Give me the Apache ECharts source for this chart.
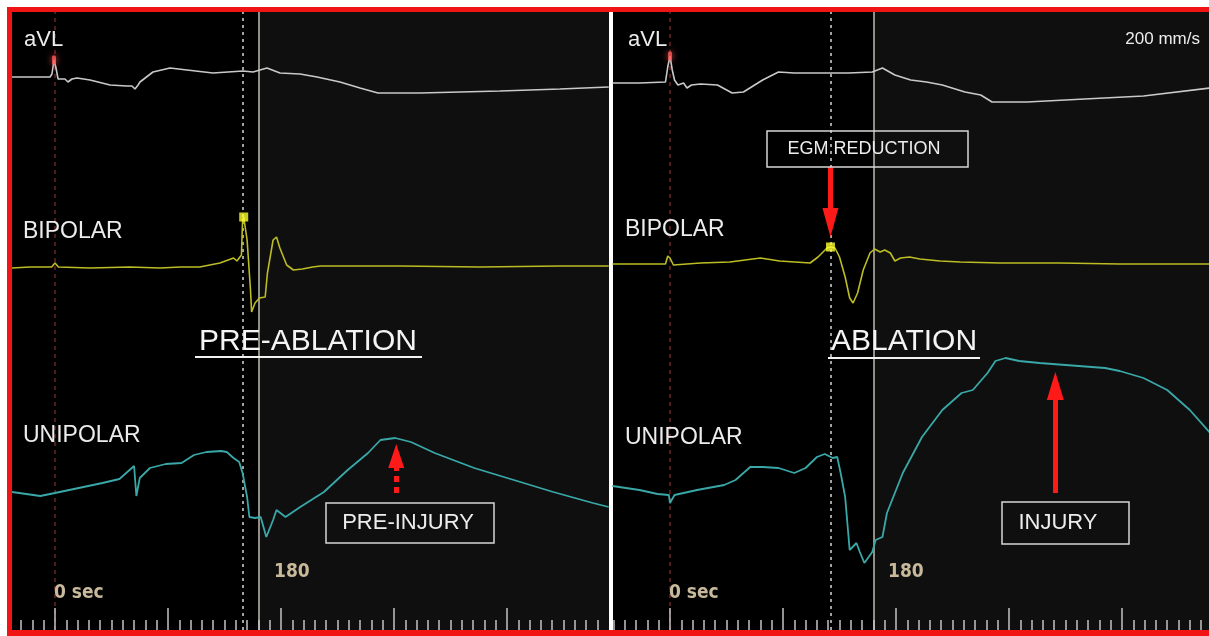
<!DOCTYPE html>
<html>
<head>
<meta charset="utf-8">
<script src="https://cdn.jsdelivr.net/npm/echarts@6/dist/echarts.min.js"></script>
<style>
  html, body { margin: 0; padding: 0; background: #fff; }
  #chart { width: 1209px; height: 636px; }
</style>
</head>
<body>
<div id="chart"></div>
<script>
// time in ms from the pacing spike, amplitude in mV (positive up)

// ---- PRE-ABLATION panel ----
var avlLeftT = [-38, -22, -4.4, -2.7, -0.9, 0.9, 2.7, 4.4, 8.8, 11.5, 15, 19.5, 31, 48.7, 63.7, 68.1, 70.8, 73.5, 75.2, 86.7, 101.8, 116.8, 139.8, 166.4, 175.2, 187.6, 199.1, 216.8, 231.9, 252.2, 269.9, 285.8, 323, 393.8, 446.9, 490];
var avlLeftV = [0.03, 0.03, 0.03, 0.06, 0.20, 0.12, 0.01, 0.00, 0.01, -0.02, 0.01, 0.02, 0, -0.05, -0.06, -0.06, -0.09, -0.05, -0.02, 0.08, 0.12, 0.10, 0.07, 0.09, 0.08, 0.12, 0.07, 0.06, 0.03, -0.02, -0.08, -0.13, -0.13, -0.11, -0.09, -0.07];

var bipLeftT = [-38, -22, -3, 0, 3, 31, 66, 93, 111, 128, 146, 158, 161, 165, 166, 167, 170, 173, 174, 177, 181, 186, 188, 193, 196, 199, 205, 211, 219, 228, 235, 305, 376, 447, 490];
var bipLeftV = [-0.03, -0.02, -0.02, 0.02, -0.02, -0.03, -0.02, -0.03, -0.02, -0.02, 0.02, 0.07, 0.04, 0.10, 0.45, 0.48, 0.25, -0.25, -0.47, -0.38, -0.33, -0.32, -0.08, 0.25, 0.28, 0.17, 0, -0.05, -0.04, -0.02, -0.01, -0.01, -0.02, -0.01, -0.01];

var uniLeftT = [-38, -13, 0, 21, 42, 57, 66, 70, 72, 75, 84, 98, 112, 123, 134, 147, 152, 158, 163, 166, 170, 172, 177, 182, 187, 193, 196, 204, 217, 238, 259, 277, 288, 301, 315, 336, 371, 406, 441, 476, 490];
var uniLeftV = [0.03, -0.01, 0.02, 0.07, 0.12, 0.16, 0.25, 0.29, -0.01, 0.17, 0.27, 0.31, 0.32, 0.40, 0.43, 0.44, 0.43, 0.37, 0.33, 0.22, -0.02, -0.22, -0.23, -0.22, -0.42, -0.25, -0.15, -0.22, -0.12, 0.03, 0.25, 0.42, 0.55, 0.57, 0.53, 0.42, 0.27, 0.15, 0.03, -0.08, -0.12];

// ---- ABLATION panel ----
var avlRightT = [-51, -27, -4, -2, 0, 2, 4, 7, 12, 15, 19, 27, 42, 55, 65, 82, 96, 110, 130, 158, 179, 188, 199, 213, 227, 241, 261, 275, 285, 316, 367, 419, 478];
var avlRightV = [-0.03, -0.03, -0.02, 0.13, 0.24, 0.10, 0, -0.05, -0.03, -0.08, -0.05, -0.04, -0.05, -0.13, -0.12, 0, 0.08, 0.07, 0.07, 0.07, 0.08, 0.12, 0.05, 0, -0.02, -0.05, -0.12, -0.15, -0.22, -0.22, -0.19, -0.16, -0.08];

var bipRightT = [-51, -27, -4, -2, 0, 3, 27, 53, 80, 97, 124, 131, 139, 142, 146, 150, 155, 159, 162, 166, 171, 177, 181, 186, 190, 195, 199, 204, 212, 221, 239, 257, 292, 345, 398, 478];
var bipRightV = [0.01, 0.01, 0.01, 0.09, 0.07, 0, 0.02, 0.03, 0.07, 0.04, 0.02, 0.08, 0.17, 0.18, 0.17, 0.08, -0.12, -0.33, -0.38, -0.28, -0.05, 0.12, 0.16, 0.13, 0.15, 0.12, 0.04, 0.07, 0.08, 0.06, 0.04, 0.03, 0.02, 0.02, 0.01, 0.01];

var uniRightT = [-51, -27, -11, -1, 0, 4, 24, 48, 58, 71, 82, 96, 110, 120, 130, 137, 144, 148, 151, 155, 159, 165, 168, 172, 179, 182, 188, 192, 206, 223, 241, 258, 268, 281, 288, 297, 309, 327, 350, 385, 398, 419, 440, 460, 478];
var uniRightV = [0.09, 0.05, 0.01, 0, -0.08, 0, 0.05, 0.10, 0.15, 0.28, 0.28, 0.27, 0.22, 0.27, 0.38, 0.41, 0.37, 0.38, 0.22, -0.02, -0.55, -0.48, -0.57, -0.68, -0.57, -0.45, -0.42, -0.18, 0.22, 0.58, 0.85, 1.02, 1.05, 1.22, 1.34, 1.37, 1.34, 1.32, 1.30, 1.27, 1.24, 1.17, 1.05, 0.85, 0.62];

// markers: [time, mV]
var paceLeft = [-0.9, 0.20], paceRight = [0, 0.24];
var egmLeft = [167, 0.48], egmRight = [142, 0.18];

// cursor lines (ms): spike, annotation cursor, 180 ms
var cursorsLeft = [0, 166, 180];
var cursorsRight = [0, 142, 180];

// arrows: [time, from mV, to mV]
var preInjuryArrow = [302, 0.02, 0.39];
var injuryArrow = [341, 0.02, 1.09];
var egmArrow = [142, 0.98, 0.425];

var majorTicks = [0, 100, 200, 300, 400];
var minorTicks = [];
for (var t = -50; t <= 480; t += 10) {
    if (majorTicks.indexOf(t) < 0) minorTicks.push(t);
}

// ---- layout ----
var PX_PER_MS = 1.13;
var TOP = 12, BOTTOM = 630;
var panels = [
    { left: 12, width: 597, zeroPx: 55 },
    { left: 613, width: 596, zeroPx: 670 }
];
var baselinePx = [80, 265, 495]; // aVL, bipolar, unipolar
var PX_PER_MV = 100;

function zip(ts, vs) {
    var out = [];
    for (var i = 0; i < ts.length; i++) out.push([ts[i], vs[i]]);
    return out;
}

var grids = [], xAxes = [], yAxes = [], series = [];

panels.forEach(function (p, pi) {
    var xmin = (p.left - p.zeroPx) / PX_PER_MS;
    var xmax = (p.left + p.width - p.zeroPx) / PX_PER_MS;
    p.xmin = xmin; p.xmax = xmax;
    grids.push({ left: p.left, top: TOP, width: p.width, height: BOTTOM - TOP,
        show: true, backgroundColor: '#000', borderWidth: 0 });
    [[majorTicks, 22], [minorTicks, 10]].forEach(function (tk) {
        xAxes.push({
            gridIndex: pi, type: 'value', min: xmin, max: xmax, position: 'bottom', z: 10,
            axisLine: { show: false, onZero: false }, axisLabel: { show: false }, splitLine: { show: false },
            axisTick: { show: true, inside: true, length: tk[1], customValues: [-1000].concat(tk[0]),
                lineStyle: { color: '#c4c4c4', width: 1.5 } }
        });
    });
    baselinePx.forEach(function (b) {
        yAxes.push({ gridIndex: pi, type: 'value', show: false, splitLine: { show: false },
            max: (b - TOP) / PX_PER_MV, min: -(BOTTOM - b) / PX_PER_MV });
    });
});

function arrowLine(a, dashed, head) {
    return {
        silent: true, symbol: ['none', 'triangle'], symbolSize: head,
        label: { show: false },
        lineStyle: { color: '#ff1a1a', width: 5, type: dashed ? [6, 5] : 'solid', opacity: 1 },
        data: [[{ coord: [a[0], a[1]] }, { coord: [a[0], a[2]] }]]
    };
}

function guideSeries(pi, cursors) {
    var p = panels[pi];
    var styles = [
        { color: '#6e2424', width: 1.5, type: [4, 4] },
        { color: '#d8d8d8', width: 1.5, type: [3, 4] },
        { color: '#bdbdb0', width: 1.5, type: 'solid' }
    ];
    return {
        type: 'line', xAxisIndex: pi * 2, yAxisIndex: pi * 3, data: [], z: 1,
        markArea: { silent: true, z: 1, itemStyle: { color: '#0f0f0f' },
            data: [[{ xAxis: cursors[2] }, { xAxis: p.xmax }]] },
        markLine: { silent: true, z: 2, symbol: 'none', label: { show: false },
            data: cursors.map(function (c, i) {
                return { xAxis: c, lineStyle: styles[i] };
            }) }
    };
}

function trace(pi, row, data, color, width) {
    return { type: 'line', xAxisIndex: pi * 2, yAxisIndex: pi * 3 + row, data: data,
        showSymbol: false, symbol: 'none', z: 3, animation: false,
        lineStyle: { color: color, width: width } };
}

function dot(pi, row, pt, sym, size, color, glow) {
    return { type: 'scatter', xAxisIndex: pi * 2, yAxisIndex: pi * 3 + row, data: [pt], z: 4,
        symbol: sym, symbolSize: size,
        itemStyle: { color: color, shadowBlur: glow ? 6 : 0, shadowColor: color } };
}

var AVL = '#c9c9c9', BIP = '#bcbc24', UNI = '#3aa8a8';

series.push(guideSeries(0, cursorsLeft));
series.push(trace(0, 0, zip(avlLeftT, avlLeftV), AVL, 1.6));
series.push(trace(0, 1, zip(bipLeftT, bipLeftV), BIP, 1.6));
var ul = trace(0, 2, zip(uniLeftT, uniLeftV), UNI, 1.8);
ul.markLine = arrowLine(preInjuryArrow, true, [16, 24]);
series.push(ul);
series.push(dot(0, 0, paceLeft, 'roundRect', [4, 9], '#ff5a5a', true));
series.push(dot(0, 1, egmLeft, 'rect', 9, '#ffff30', false));

series.push(guideSeries(1, cursorsRight));
series.push(trace(1, 0, zip(avlRightT, avlRightV), AVL, 1.6));
var br = trace(1, 1, zip(bipRightT, bipRightV), BIP, 1.6);
br.markLine = arrowLine(egmArrow, false, [16, 29]);
series.push(br);
var ur = trace(1, 2, zip(uniRightT, uniRightV), UNI, 1.8);
ur.markLine = arrowLine(injuryArrow, false, [17, 28]);
series.push(ur);
series.push(dot(1, 0, paceRight, 'roundRect', [4, 9], '#ff5a5a', true));
series.push(dot(1, 1, egmRight, 'rect', 9, '#ffff30', false));

var FONT = "'Liberation Sans', Arial, sans-serif";
function txt(text, x, y, size, opts) {
    opts = opts || {};
    return { type: 'text', z: 100, silent: true,
        style: { text: text, x: x, y: y, fill: opts.color || '#ececec',
            font: (opts.weight || 'normal') + ' ' + size + 'px ' + (opts.family || FONT),
            align: opts.align || 'left', verticalAlign: 'middle' } };
}
function box(x, y, w, h) {
    return { type: 'rect', z: 100, silent: true, shape: { x: x, y: y, width: w, height: h },
        style: { fill: 'none', stroke: '#d6d6d6', lineWidth: 1.5 } };
}
function uline(x1, x2, y) {
    return { type: 'line', z: 100, silent: true, shape: { x1: x1, y1: y, x2: x2, y2: y },
        style: { stroke: '#f2f2f2', lineWidth: 2 } };
}
var NUM = { color: '#c8b99b', weight: 'bold', family: "'DejaVu Sans Condensed', 'Liberation Sans Narrow', sans-serif" };

var graphic = [
    { type: 'rect', z: -10, silent: true, shape: { x: 7, y: 7, width: 1230, height: 640 }, style: { fill: '#f01414' } },
    { type: 'rect', z: -5, silent: true, shape: { x: 609, y: TOP, width: 4, height: BOTTOM - TOP }, style: { fill: '#ffffff' } },
    txt('aVL', 24, 40, 22),
    txt('aVL', 628, 40, 22),
    txt('200 mm/s', 1200, 39, 17, { align: 'right' }),
    txt('BIPOLAR', 23, 232, 23),
    txt('BIPOLAR', 625, 230, 23),
    txt('UNIPOLAR', 23, 436, 23),
    txt('UNIPOLAR', 625, 438, 23),
    txt('PRE-ABLATION', 308, 342, 30, { align: 'center', color: '#f4f4f4' }),
    uline(195, 422, 357),
    txt('ABLATION', 904, 342, 30, { align: 'center', color: '#f4f4f4' }),
    uline(828, 980, 358),
    box(326, 503, 168, 40),
    txt('PRE-INJURY', 408, 523, 22, { align: 'center' }),
    box(767, 131, 201, 36),
    txt('EGM REDUCTION', 864, 149, 18, { align: 'center' }),
    box(1002, 502, 127, 42),
    txt('INJURY', 1058, 523, 22, { align: 'center' }),
    txt('0 sec', 54, 593, 19, NUM),
    txt('0 sec', 669, 593, 19, NUM),
    txt('180', 274, 572, 19, NUM),
    txt('180', 888, 572, 19, NUM)
];

var chart = echarts.init(document.getElementById('chart'));
chart.setOption({
    animation: false,
    backgroundColor: '#ffffff',
    grid: grids,
    xAxis: xAxes,
    yAxis: yAxes,
    series: series,
    graphic: graphic
});
</script>
</body>
</html>
